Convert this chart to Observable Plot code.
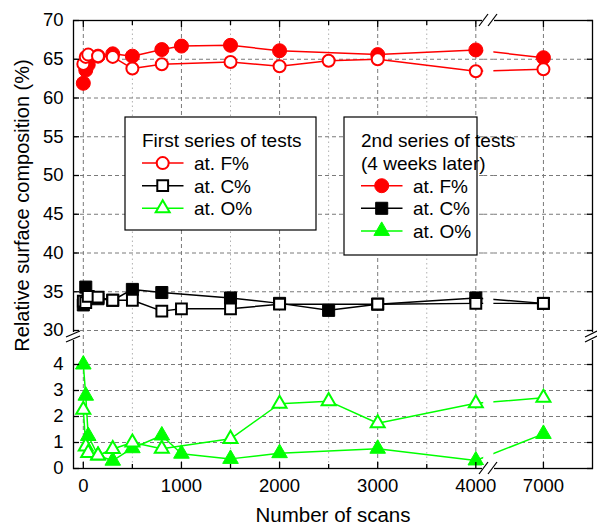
<!DOCTYPE html>
<html><head><meta charset="utf-8">
<script src="https://cdn.jsdelivr.net/npm/d3@7"></script>
<script src="https://cdn.jsdelivr.net/npm/@observablehq/plot@0.6"></script>
<style>
body{margin:0;background:#fff;}
svg{font-family:"Liberation Sans",Arial,sans-serif;}
</style>
</head><body><div id="chart"></div>
<script>
// ---- Data: 1st series of tests (open markers) ----
const scans1F = [0, 25, 50, 150, 300, 500, 800, 1500, 2000, 2500, 3000, 4000, 7000];
const F1      = [64.4, 65.3, 65.6, 65.4, 65.3, 63.8, 64.35, 64.65, 64.1, 64.8, 65.0, 63.45, 63.7];
const scans1C = [0, 25, 50, 150, 300, 500, 800, 1000, 1500, 2000, 3000, 4000, 7000];
const C1      = [33.8, 33.6, 34.4, 34.3, 33.9, 33.9, 32.5, 32.8, 32.8, 33.4, 33.4, 33.5, 33.5];
const scans1O = [0, 25, 50, 150, 300, 500, 800, 1500, 2000, 2500, 3000, 4000, 7000];
const O1      = [2.26, 0.85, 0.6, 0.5, 0.75, 1.0, 0.76, 1.14, 2.49, 2.59, 1.74, 2.51, 2.72];

// ---- Data: 2nd series of tests, 4 weeks later (filled markers) ----
const scans2F = [0, 25, 50, 150, 300, 500, 800, 1000, 1500, 2000, 3000, 4000, 7000];
const F2      = [61.9, 63.6, 64.3, 65.4, 65.7, 65.4, 66.25, 66.7, 66.8, 66.1, 65.6, 66.2, 65.2];
const scans2C = [0, 25, 50, 150, 300, 500, 800, 1500, 2000, 2500, 3000, 4000, 7000];
const C2      = [33.3, 35.6, 34.3, 34.1, 33.9, 35.3, 34.9, 34.2, 33.5, 32.6, 33.4, 34.2, 33.5];
const scans2O = [0, 25, 50, 150, 300, 500, 800, 1000, 1500, 2000, 3000, 4000, 7000];
const O2      = [4.0, 2.8, 1.25, 0.5, 0.3, 0.78, 1.27, 0.57, 0.37, 0.59, 0.76, 0.31, 1.33];

// ---- Ticks ----
const xTicksMajor = [0, 1000, 2000, 3000, 4000, 7000];
const xTicksMinor = [500, 1500, 2500, 3500];
const yTicksUpper = [30, 35, 40, 45, 50, 55, 60, 65, 70];
const yTicksLower = [0, 1, 2, 3, 4];
const yGrid = [1, 2, 3, 4, 30, 35, 40, 45, 50, 55, 60, 65];
const yTicksAll = [...yTicksLower, ...yTicksUpper];

const RED = "#ff0000", GREEN = "#00ff00", BLACK = "#000000";
const rows = (xs, ys) => xs.map((x, i) => ({x, y: ys[i]}));

// broken-axis transforms (applied by Plot's scales)
const xBreakFrom = 4000, xBreakTo = 7000, xSqueeze = 689 / 3000;
const xT = v => v <= xBreakFrom ? v
  : v <= xBreakTo ? xBreakFrom + (v - xBreakFrom) * xSqueeze
  : xBreakFrom + (xBreakTo - xBreakFrom) * xSqueeze + (v - xBreakTo);
const yLowerK = 26 / 7.75, yUpperBase = 138 / 7.75;
const yT = v => v < 20 ? v * yLowerK : yUpperBase + (v - 30);

const series = [
  {data: rows(scans2F, F2), color: RED,   symbol: "circle",   open: false, r: 7},
  {data: rows(scans2C, C2), color: BLACK, symbol: "square",   open: false, r: 6.8},
  {data: rows(scans2O, O2), color: GREEN, symbol: "triangle", open: false, r: 5.8},
  {data: rows(scans1F, F1), color: RED,   symbol: "circle",   open: true,  r: 6},
  {data: rows(scans1C, C1), color: BLACK, symbol: "square",   open: true,  r: 6.1},
  {data: rows(scans1O, O1), color: GREEN, symbol: "triangle", open: true,  r: 5.2}
];

const gridStyle = {stroke: "#7a7a7a", strokeDasharray: "4,3", strokeWidth: 1};
const tickOpts = {tickFormat: () => "", strokeWidth: 1.3, label: null};
const marks = [
  Plot.ruleX(xTicksMinor, {stroke: "#b0b0b0", strokeDasharray: "1.5,3", strokeWidth: 1}),
  Plot.ruleX(xTicksMajor, gridStyle),
  Plot.ruleY(yGrid, gridStyle),
  ...series.map(s => Plot.line(s.data, {x: "x", y: "y", stroke: s.color, strokeWidth: 1.5})),
  // x-axis break gap over the lines
  Plot.rect([0], {x1: 4350, x2: 4800, y1: 0, y2: 70, fill: "white"}),
  Plot.ruleY(yGrid, {...gridStyle, x1: 4350, x2: 4800}),
  ...series.map(s => Plot.dot(s.data, {
    x: "x", y: "y", symbol: s.symbol, r: s.r,
    fill: s.open ? "white" : s.color,
    stroke: s.color, strokeWidth: s.open ? 2 : 1
  })),
  Plot.frame({stroke: BLACK, strokeWidth: 1.3}),
  // inward ticks
  Plot.axisX(xTicksMajor, {anchor: "bottom", tickSize: -6, ...tickOpts}),
  Plot.axisX(xTicksMinor, {anchor: "bottom", tickSize: -4, ...tickOpts}),
  Plot.axisX(xTicksMajor, {anchor: "top", tickSize: -6, ...tickOpts}),
  Plot.axisX(xTicksMinor, {anchor: "top", tickSize: -4, ...tickOpts}),
  Plot.axisY(yTicksAll, {anchor: "left", tickSize: -6, ...tickOpts}),
  Plot.axisY(yTicksAll, {anchor: "right", tickSize: -6, ...tickOpts}),
  // labels
  Plot.axisX(xTicksMajor, {anchor: "bottom", tickSize: 0, tickPadding: 10, fontSize: 18.5, tickFormat: d => String(d), label: null}),
  Plot.axisY(yTicksAll, {anchor: "left", tickSize: 0, tickPadding: 10, fontSize: 18.5, tickFormat: d => String(d), label: null}),
  Plot.text(["Number of scans"], {frameAnchor: "bottom", dy: 47, fontSize: 20.5, fill: BLACK, textAnchor: "middle", lineAnchor: "middle"}),
  Plot.text(["Relative surface composition (%)"], {frameAnchor: "left", rotate: -90, dx: -51, dy: -39, fontSize: 20, fill: BLACK, textAnchor: "middle", lineAnchor: "middle"})
];

const chart = Plot.plot({
  width: 597, height: 529,
  marginLeft: 73, marginRight: 5, marginTop: 20, marginBottom: 61,
  style: {fontFamily: '"Liberation Sans", Arial, sans-serif', fontSize: "18px", color: "#000", background: "#fff", overflow: "visible"},
  x: {type: "linear", transform: xT, domain: [xT(-100), xT(7500)], axis: null, label: null},
  y: {type: "linear", transform: yT, domain: [yT(0), yT(70)], axis: null, label: null},
  marks
});
document.getElementById("chart").appendChild(chart);

// ---- Legends and axis breaks (decoration) ----
const svg = d3.select(chart);
const deco = svg.append("g").attr("text-anchor", "start").attr("font-size", 19);
function legendBox(x, y, w, h, titleLines, items) {
  deco.append("rect").attr("x", x).attr("y", y).attr("width", w).attr("height", h)
    .attr("fill", "white").attr("stroke", "#000").attr("stroke-width", 1.2);
  titleLines.forEach((t, i) => {
    deco.append("text").attr("x", x + 17).attr("y", y + 30 + i * 22.6).text(t);
  });
  items.forEach((it, i) => {
    const cy = y + 23.5 + (titleLines.length + i) * 22.6;
    deco.append("line").attr("x1", x + 17).attr("x2", x + 58.5).attr("y1", cy).attr("y2", cy)
      .attr("stroke", it.color).attr("stroke-width", 1.5);
    deco.append("path").attr("transform", `translate(${x + 37.7},${cy})`)
      .attr("d", d3.symbol(it.symbol === "circle" ? d3.symbolCircle : it.symbol === "square" ? d3.symbolSquare : d3.symbolTriangle, Math.PI * it.r * it.r)())
      .attr("fill", it.open ? "white" : it.color).attr("stroke", it.color).attr("stroke-width", it.open ? 2 : 1);
    deco.append("text").attr("x", x + 69).attr("y", cy + 6.8).text(it.label);
  });
}
const labels = ["at. F%", "at. C%", "at. O%"];
legendBox(125, 117, 191, 113, ["First series of tests"],
  series.slice(3).map((s, i) => ({...s, label: labels[i]})));
legendBox(344, 117, 133, 138, ["2nd series of tests", "(4 weeks later)"],
  series.slice(0, 3).map((s, i) => ({...s, label: labels[i]})));

// break marks
function brk(x, y, w, h, segs) {
  deco.append("rect").attr("x", x).attr("y", y).attr("width", w).attr("height", h).attr("fill", "white");
  segs.forEach(s => deco.append("line").attr("x1", s[0]).attr("y1", s[1]).attr("x2", s[2]).attr("y2", s[3])
    .attr("stroke", "#000").attr("stroke-width", 1.2));
}
brk(70, 332, 7, 8, [[66, 337, 80, 331], [66, 342, 80, 336]]);
brk(589, 332, 7, 8, [[585, 337, 597, 331], [585, 342, 597, 336]]);
brk(482, 465, 12, 6, [[479, 474, 488, 462], [488, 474, 497, 462]]);
brk(482, 17, 12, 6, [[479, 26, 488, 14], [488, 26, 497, 14]]);
</script>
</body></html>
